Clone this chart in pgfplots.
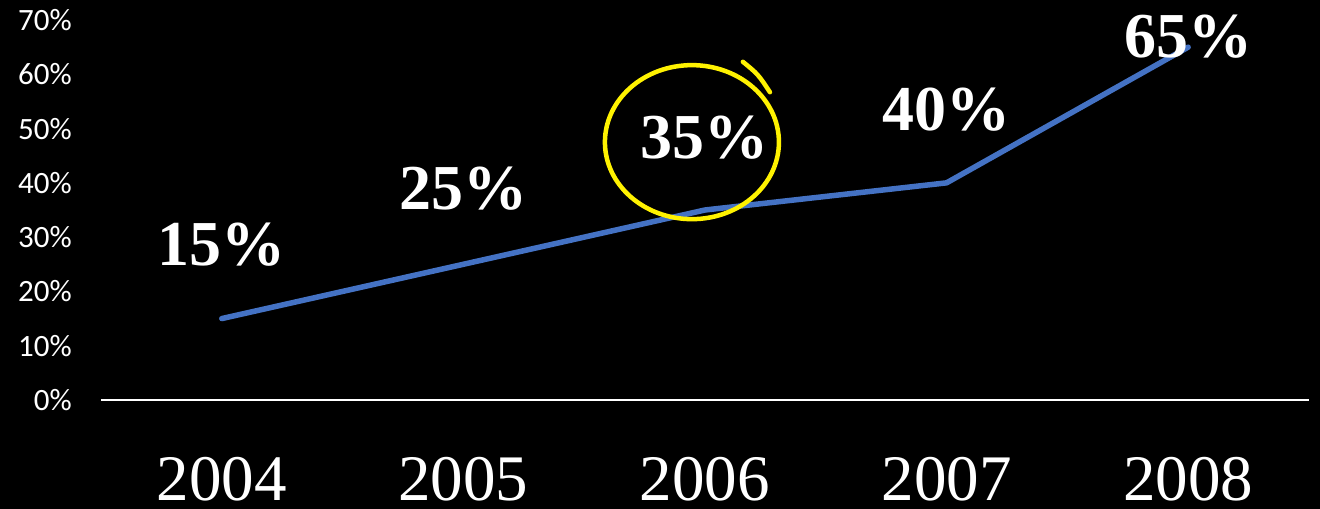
\documentclass[border=0pt]{standalone}
\usepackage{pgfplots}
\pgfplotsset{compat=1.18}
\usepackage{fontspec}
\setmainfont{Liberation Serif}
\newfontfamily\calibri{Carlito}
\usetikzlibrary{backgrounds}
\definecolor{lineblue}{HTML}{4472C4}
\begin{document}
\begin{tikzpicture}
\begin{axis}[
  scale only axis,
  width=1208bp, height=380bp,
  xmin=-0.5, xmax=4.5,
  ymin=0, ymax=70,
  clip=false,
  axis x line*=bottom, axis y line*=left,
  x axis line style={white, line width=2bp, -},
  y axis line style={draw=none},
  xtick={0,1,2,3,4},
  xticklabels={2004,2005,2006,2007,2008},
  ytick={0,10,20,30,40,50,60,70},
  yticklabels={0\%,10\%,20\%,30\%,40\%,50\%,60\%,70\%},
  tick style={draw=none},
  xticklabel style={font=\fontsize{65bp}{70bp}\selectfont, text=white, inner sep=0pt, text depth=0pt, yshift=-57bp},
  yticklabel style={font=\fontsize{31bp}{34bp}\selectfont\calibri, text=white, inner sep=0pt, xshift=-29bp},
]
\addplot[lineblue, line width=5.5bp, line cap=round, line join=round] coordinates {
  (0,15) (1,25) (2,35) (3,40) (4,65)
};
% data labels
\addplot[draw=none, nodes near coords, point meta=explicit symbolic,
  nodes near coords align={center},
  every node near coord/.style={font=\fontsize{64bp}{68bp}\selectfont\bfseries, text=white, anchor=center, inner sep=0pt}]
  coordinates {
  (0,28.7) [15\%]
  (1,38.9) [25\%]
  (2,48.4) [35\%]
  (3,53.4) [40\%]
  (4,66.9) [65\%]
};
\draw[yellow, line width=4.5bp] (axis cs:1.946,47.5) ellipse [x radius=87bp, y radius=77bp];
\draw[yellow, line width=4.5bp, line cap=round] (axis cs:2.157,62.3) .. controls (axis cs:2.22,60) .. (axis cs:2.269,56.7);
\end{axis}
\pgfresetboundingbox
\path[use as bounding box] ([xshift=-101bp, yshift=-109bp]current axis.south west) rectangle ++(1320bp,509bp);
\begin{scope}[on background layer]
\fill[black] ([xshift=-101bp, yshift=-109bp]current axis.south west) rectangle ++(1320bp,509bp);
\end{scope}
\end{tikzpicture}
\end{document}
